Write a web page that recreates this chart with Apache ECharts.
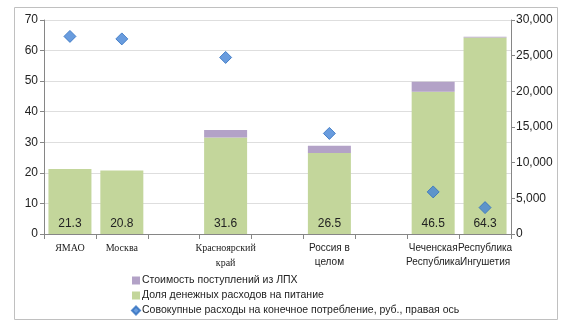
<!DOCTYPE html>
<html><head><meta charset="utf-8">
<script src="https://cdn.jsdelivr.net/npm/echarts@6/dist/echarts.min.js"></script>
<style>html,body{margin:0;padding:0;background:#fff}#c{width:578px;height:324px}</style>
</head><body><div id="c"></div>
<script>
var categories = ['ЯМАО', 'Москва', '', 'Красноярский\nкрай', '', 'Россия в\nцелом', '', 'Чеченская\nРеспублика', 'Республика\nИнгушетия'];
var foodShare = [21.3, 20.8, null, 31.6, null, 26.5, null, 46.5, 64.3];
var lphValue = [0, 0, null, 2.4, null, 2.4, null, 3.3, 0.2];
var consumption = [27700, 27350, null, 24750, null, 14100, null, 5900, 3700];
var serifCats = {'ЯМАО':1, 'Москва':1, 'Красноярский\nкрай':1};

var chart = echarts.init(document.getElementById('c'));
chart.setOption({
  animation: false,
  textStyle: {fontFamily: 'Liberation Sans, Arial, sans-serif'},
  graphic: [{type: 'rect', shape: {x: 14.5, y: 7.5, width: 543, height: 312}, style: {fill: 'none', stroke: '#c0c0c0', lineWidth: 1}, silent: true}],
  grid: {left: 44, right: 67, top: 20, bottom: 90},
  legend: {
    orient: 'vertical', left: 126, top: 270, itemGap: 4, itemWidth: 8, itemHeight: 8,
    textStyle: {fontSize: 10.5, color: '#222', padding: [0,0,0,-3]},
    data: [
      {name: 'Стоимость поступлений из ЛПХ', icon: 'rect'},
      {name: 'Доля денежных расходов на питание', icon: 'rect'},
      {name: 'Совокупные расходы на конечное потребление, руб., правая ось', icon: 'diamond'}
    ]
  },
  xAxis: {
    type: 'category', data: categories,
    axisLine: {lineStyle: {color: '#868686'}},
    axisTick: {show: true, alignWithLabel: false, length: 5, lineStyle: {color: '#868686'}},
    axisLabel: {
      interval: 0, color: '#222', margin: 7, lineHeight: 14,
      formatter: function (v) { return serifCats[v] ? '{s|' + v.split('\n').join('}\n{s|') + '}' : v; },
      fontSize: 10,
      rich: {s: {fontFamily: 'Liberation Serif, Times New Roman, serif', fontSize: 10, lineHeight: 15}}
    }
  },
  yAxis: [
    {type: 'value', min: 0, max: 70, interval: 10,
     axisLine: {show: true, lineStyle: {color: '#868686'}},
     axisTick: {show: true, length: 4, lineStyle: {color: '#868686'}},
     axisLabel: {color: '#222', fontSize: 12, margin: 6},
     splitLine: {lineStyle: {color: '#dedede'}}},
    {type: 'value', min: 0, max: 30000, interval: 5000, position: 'right',
     axisLine: {show: true, lineStyle: {color: '#868686'}},
     axisTick: {show: true, length: 4, lineStyle: {color: '#868686'}},
     axisLabel: {color: '#222', fontSize: 12, margin: 5,
       formatter: function (v) { return v.toLocaleString('en-US'); }},
     splitLine: {show: false}}
  ],
  series: [
    {name: 'Доля денежных расходов на питание', type: 'bar', stack: 's', data: foodShare, barWidth: 43,
     itemStyle: {color: '#c3d69b'},
     label: {show: true, position: 'insideBottom', distance: 4, color: '#222', fontSize: 12,
       formatter: function (p) { return p.value == null ? '' : p.value.toFixed(1); }}},
    {name: 'Стоимость поступлений из ЛПХ', type: 'bar', stack: 's', data: lphValue, barWidth: 43,
     itemStyle: {color: '#b3a2c7'}},
    {name: 'Совокупные расходы на конечное потребление, руб., правая ось', type: 'scatter', yAxisIndex: 1,
     data: consumption, symbol: 'diamond', symbolSize: 12,
     itemStyle: {color: '#4383d6', borderColor: '#2f6fbf', borderWidth: 1}}
  ]
});
</script></body></html>
